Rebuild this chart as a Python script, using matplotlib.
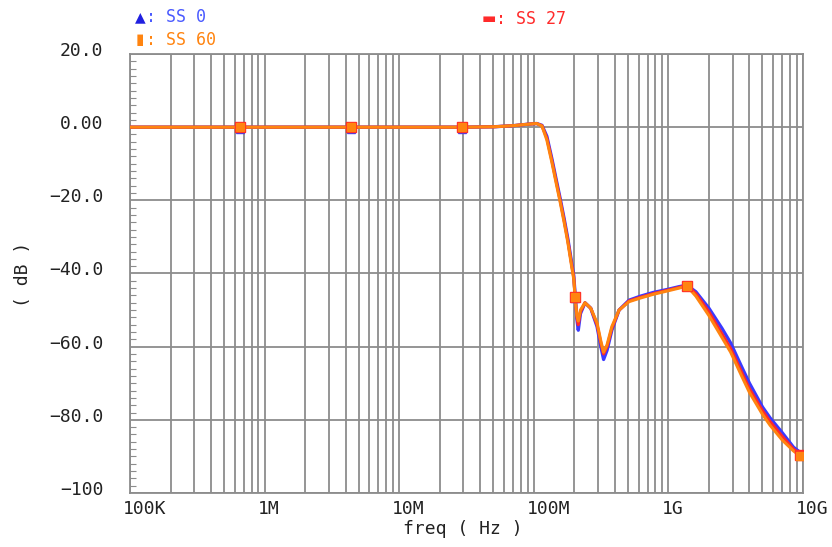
import matplotlib
matplotlib.use("Agg")
import matplotlib.pyplot as plt
import matplotlib.transforms as mtransforms
from matplotlib.ticker import LogLocator, MultipleLocator, FixedLocator, NullFormatter

# frequency grid (Hz) and magnitude (dB)
freq = [1e5, 1e6, 1e7, 3e7, 5e7, 7e7, 9e7, 1.05e8, 1.15e8, 1.25e8, 1.36e8, 1.47e8,
        1.57e8, 1.68e8, 1.79e8, 1.9e8, 1.98e8, 2.03e8, 2.09e8, 2.14e8, 2.22e8, 2.4e8,
        2.65e8, 2.95e8, 3.15e8, 3.3e8, 3.5e8, 3.8e8, 4.3e8, 5.1e8, 6.2e8, 7.7e8,
        1.0e9, 1.2e9, 1.37e9, 1.6e9, 2.0e9, 2.5e9, 2.9e9, 3.5e9, 4.0e9, 5.0e9,
        5.7e9, 7.0e9, 8.5e9, 1e10]

ss0 = [0, 0, 0, 0, 0.1, 0.4, 0.8, 1.0, 0.5, -2.5, -8.5, -14.5, -19.5, -25, -30.5,
       -36.5, -40.5, -46, -52.5, -55.5, -51, -48, -49.5, -54.5, -60, -63.5, -61,
       -55.5, -50, -47.3, -46.2, -45.2, -44.3, -43.6, -43.2, -45, -49.5, -55,
       -59, -65.5, -70, -76.5, -79.5, -83.5, -87.5, -89.5]

ss27 = [0, 0, 0, 0, 0.1, 0.4, 0.8, 1.0, 0.4, -3, -9, -15, -20, -25.5, -31,
        -37, -41, -46.5, -52, -54, -50.5, -48, -49.5, -54, -59, -62, -60,
        -55, -50, -47.5, -46.5, -45.5, -44.5, -43.8, -43.3, -45.5, -50.5, -56.5,
        -60.5, -67, -71.5, -77.5, -80.5, -84.5, -88, -90]

ss60 = [0, 0, 0, 0, 0.1, 0.4, 0.8, 1.0, 0.3, -3.5, -9.5, -15.5, -20.5, -26, -31.5,
        -37.5, -41.5, -47, -51.5, -53, -50, -48, -49.5, -53.5, -58.5, -61.5, -59.5,
        -54.5, -50, -47.7, -46.7, -45.7, -44.7, -44, -43.4, -46.2, -51.5, -57.5,
        -61.5, -68, -72.5, -78.5, -81.5, -85.5, -88.5, -90.5]

# marker positions
mark_freq = [6.56e5, 4.38e6, 2.93e7, 2.02e8, 1.37e9, 9.5e9]
mark_ss0 = [-0.6, -0.6, -0.6, -46.8, -43.3, -89.5]
mark_ss27 = [0, 0, 0, -46.5, -43.3, -89.5]
mark_ss60 = [0, 0, 0, -46.5, -43.3, -89.8]

y_ticks = [20, 0, -20, -40, -60, -80, -100]
y_labels = ["20.0", "0.00", "\u221220.0", "\u221240.0", "\u221260.0", "\u221280.0", "\u2212100"]
x_ticks = [1e5, 1e6, 1e7, 1e8, 1e9, 1e10]
x_labels = ["100K", "1M", "10M", "100M", "1G", "10G"]

blue = "#3a3aff"
red = "#ff2a2a"
orange = "#ff8410"
grid_c = "#8c8c8c"
mono = "DejaVu Sans Mono"

fig = plt.figure(figsize=(8.32, 5.47), dpi=100)
ax = fig.add_axes([130 / 832, 1 - 493 / 547, 673 / 832, 439 / 547])

ax.plot(freq, ss0, color=blue, lw=2.4, zorder=3)
ax.plot(freq, ss27, color=red, lw=2.2, zorder=4)
ax.plot(freq, ss60, color=orange, lw=2.2, zorder=5)
ax.plot(mark_freq, mark_ss0, ls="none", marker="^", ms=6, color=blue, zorder=6)
ax.plot(mark_freq, mark_ss27, ls="none", marker="s", ms=6.5, color=red, zorder=7)
ax.plot(mark_freq, mark_ss60, ls="none", marker="s", ms=5.5, color=orange, zorder=8)

ax.set_xscale("log")
ax.set_xlim(1e5, 1e10)
ax.set_ylim(-100, 20)

ax.xaxis.set_major_locator(FixedLocator(x_ticks))
ax.xaxis.set_minor_locator(LogLocator(base=10, subs=range(2, 10)))
ax.xaxis.set_minor_formatter(NullFormatter())
ax.set_xticks(x_ticks, x_labels)
ax.set_yticks(y_ticks, y_labels)
ax.yaxis.set_minor_locator(MultipleLocator(2))

ax.grid(True, which="both", axis="x", color=grid_c, lw=1.3)
ax.grid(True, which="major", axis="y", color=grid_c, lw=1.3)
ax.set_axisbelow(True)
for s in ax.spines.values():
    s.set_color(grid_c)
    s.set_linewidth(1.3)

ax.tick_params(axis="x", which="both", length=0, pad=5, labelsize=13, labelcolor="#222222")
ax.tick_params(axis="y", which="major", length=0, pad=19, labelsize=13, labelcolor="#222222")
ax.tick_params(axis="y", which="minor", direction="in", length=4, width=0.8, color=grid_c)

dx = mtransforms.ScaledTranslation(-7 / 100, 0, fig.dpi_scale_trans)
for lab in ax.get_xticklabels():
    lab.set_fontfamily(mono)
    lab.set_horizontalalignment("left")
    lab.set_transform(lab.get_transform() + dx)
dy = mtransforms.ScaledTranslation(0, 5 / 100, fig.dpi_scale_trans)
for lab in ax.get_yticklabels():
    lab.set_fontfamily(mono)
    lab.set_transform(lab.get_transform() + dy)

fig.text(463 / 832, 1 - 529 / 547, "freq ( Hz )", ha="center", va="center",
         fontsize=13, family=mono, color="#222222")
fig.text(23 / 832, 1 - 274 / 547, "( dB )", ha="center", va="center", rotation=90,
         fontsize=13, family=mono, color="#222222")

# legend in the top margin
fig.text(140 / 832, 1 - 17 / 547, "\u25b2", ha="center", va="center", fontsize=10, color="#2020e0")
fig.text(146 / 832, 1 - 17 / 547, ": SS 0", ha="left", va="center", fontsize=12, family=mono, color="#4a5aff")
fig.text(140 / 832, 1 - 40 / 547, "\u25ae", ha="center", va="center", fontsize=11, color=orange)
fig.text(146 / 832, 1 - 40 / 547, ": SS 60", ha="left", va="center", fontsize=12, family=mono, color=orange)
fig.text(489 / 832, 1 - 19 / 547, "\u25ac", ha="center", va="center", fontsize=11, color=red)
fig.text(496 / 832, 1 - 19 / 547, ": SS 27", ha="left", va="center", fontsize=12, family=mono, color=red)

fig.savefig("out.png", dpi=100)
